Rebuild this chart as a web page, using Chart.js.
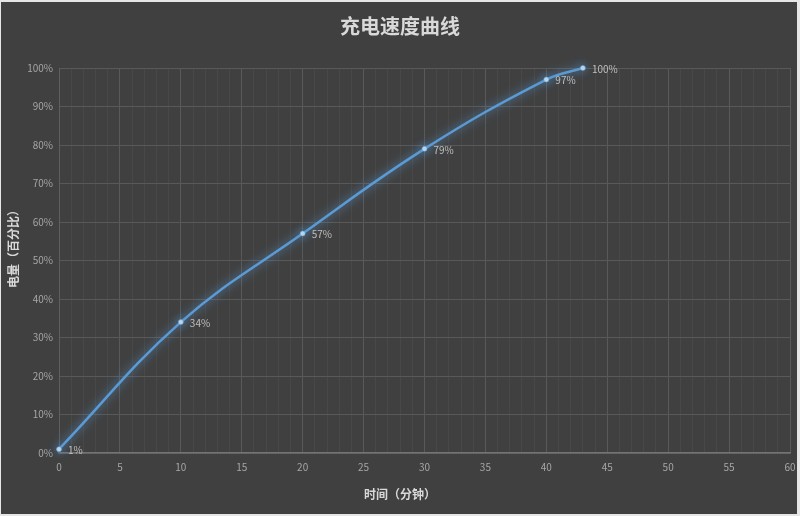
<!DOCTYPE html>
<html>
<head>
<meta charset="utf-8">
<script src="https://cdn.jsdelivr.net/npm/chart.js@4"></script>
<style>
  html, body { margin: 0; padding: 0; background: #efefef; }
  #wrap { width: 800px; height: 516px; }
</style>
</head>
<body>
<div id="wrap"><canvas id="c" width="800" height="516"></canvas></div>
<script>
// ---- data ----
const minutes = [0, 10, 20, 30, 40, 43];
const charge = [1, 34, 57, 79, 97, 100];
const chartTitle = '充电速度曲线';
const xAxisTitle = '时间（分钟）';
const yAxisTitle = '电量（百分比）';

const FONT = '"Noto Sans CJK SC", "Noto Sans", sans-serif';

const bgPlugin = {
  id: 'bg',
  beforeDraw(chart) {
    const c = chart.ctx;
    c.save();
    c.fillStyle = '#e6e6e6';
    c.fillRect(0, 0, chart.width, chart.height);
    c.fillStyle = '#404040';
    c.fillRect(1, 2, 796, 512);
    c.restore();
  }
};

const glowPlugin = {
  id: 'glow',
  beforeDatasetDraw(chart) {
    const c = chart.ctx;
    c.save();
    c.shadowColor = 'rgba(91,155,213,0.95)';
    c.shadowBlur = 10;
  },
  afterDatasetDraw(chart) {
    chart.ctx.restore();
  }
};

const labelPlugin = {
  id: 'pointLabels',
  afterDatasetsDraw(chart) {
    const c = chart.ctx;
    const meta = chart.getDatasetMeta(0);
    const ds = chart.data.datasets[0];
    c.save();
    c.font = '10px ' + FONT;
    c.fillStyle = '#bfbfbf';
    c.textAlign = 'left';
    c.textBaseline = 'middle';
    meta.data.forEach((pt, i) => {
      c.fillText(ds.data[i].y + '%', pt.x + 9, pt.y + 1);
    });
    c.restore();
  }
};

const axisTitlePlugin = {
  id: 'axisTitles',
  afterDraw(chart, args, opts) {
    const c = chart.ctx;
    c.save();
    c.font = 'bold 12px ' + FONT;
    c.fillStyle = '#d9d9d9';
    c.textAlign = 'center';
    c.textBaseline = 'middle';
    c.fillText(opts.x, 400, 494);
    c.translate(13, 246);
    c.rotate(-Math.PI / 2);
    c.fillText(opts.y, 0, 0);
    c.restore();
  }
};

new Chart(document.getElementById('c'), {
  type: 'line',
  data: {
    datasets: [{
      data: minutes.map((m, i) => ({ x: m, y: charge[i] })),
      borderColor: '#5b9bd5',
      borderWidth: 2.5,
      tension: 0.4,
      pointRadius: 2.5,
      pointBackgroundColor: '#bdd7ee',
      pointBorderColor: '#5b9bd5',
      pointBorderWidth: 0.5,
      fill: false,
      clip: false
    }]
  },
  options: {
    responsive: false,
    animation: false,
    devicePixelRatio: 1,
    layout: { padding: { left: 0, right: 0, top: 0, bottom: 0 } },
    plugins: {
      legend: { display: false },
      tooltip: { enabled: false },
      title: {
        display: true,
        text: chartTitle,
        color: '#d9d9d9',
        font: { family: FONT, size: 20, weight: 'bold' },
        padding: { top: 14, bottom: 30 }
      },
      axisTitles: { x: xAxisTitle, y: yAxisTitle }
    },
    scales: {
      x: {
        type: 'linear',
        min: 0, max: 60,
        afterFit(s) { s.height = 63; s.paddingRight = 10; s.paddingLeft = 0; },
        ticks: {
          stepSize: 1,
          autoSkip: false,
          maxRotation: 0,
          padding: 8,
          color: '#a6a6a6',
          font: { family: FONT, size: 10 },
          callback: v => (v % 5 === 0 ? String(v) : '')
        },
        grid: {
          drawTicks: false,
          color: ctx => (ctx.tick && ctx.tick.value % 5 === 0 ? '#595959' : '#484848'),
          lineWidth: 1
        },
        border: { color: '#737373', width: 1.5 }
      },
      y: {
        min: 0, max: 100,
        afterFit(s) { s.width = 59; },
        ticks: {
          stepSize: 10,
          padding: 6,
          color: '#a6a6a6',
          font: { family: FONT, size: 10 },
          callback: v => v + '%'
        },
        grid: { drawTicks: false, color: '#595959', lineWidth: 1 },
        border: { color: '#5f5f5f', width: 1 }
      }
    }
  },
  plugins: [bgPlugin, glowPlugin, labelPlugin, axisTitlePlugin]
});
</script>
</body>
</html>
